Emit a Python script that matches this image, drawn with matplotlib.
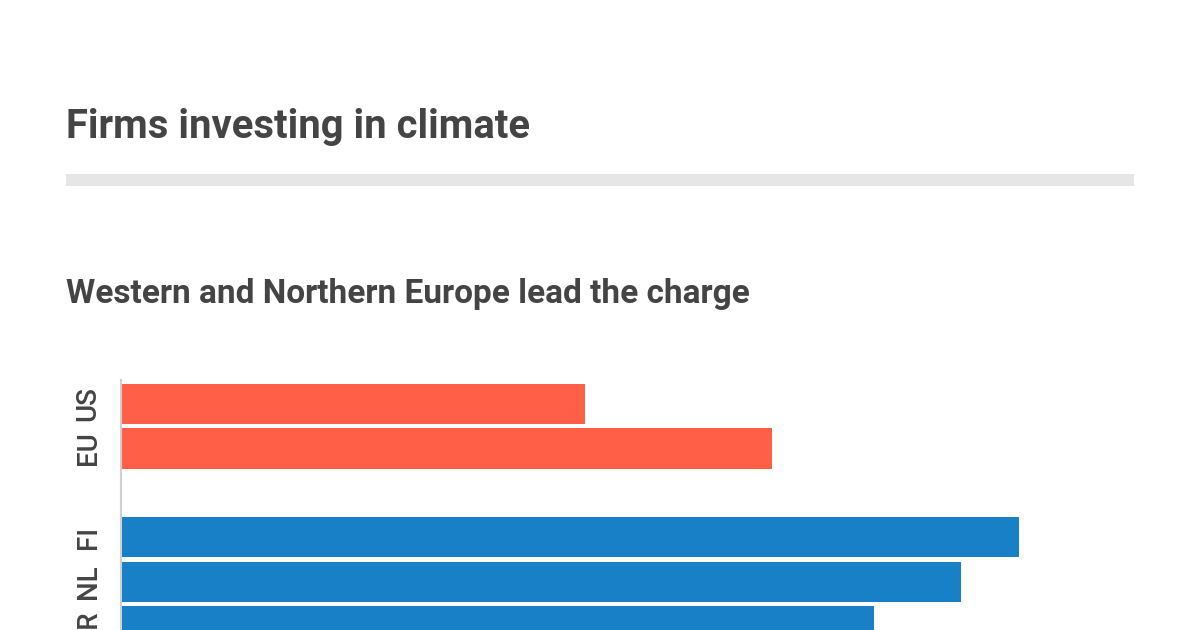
import matplotlib
matplotlib.use("Agg")
import matplotlib.pyplot as plt

# values (share of firms, %)
countries = ["US", "EU", "FI", "NL", "FR"]
positions = [0, 1, 3, 4, 5]
shares = [36.2, 50.8, 70.0, 65.5, 58.7]
groups = ["benchmark", "benchmark", "country", "country", "country"]

COLORS = {"benchmark": "#FF5E47", "country": "#1780C6"}
TEXT = "#444444"

plt.rcParams["font.family"] = ["Roboto", "DejaVu Sans"]

fig = plt.figure(figsize=(12, 6.3), dpi=100)
fig.patch.set_facecolor("white")

W, H = 1200, 630

fig.text(66 / W, 1 - 138 / H, "Firms investing in climate", ha="left", va="baseline",
         fontsize=28.8, fontweight="bold", color=TEXT)
fig.patches.append(plt.Rectangle((66 / W, 1 - 186 / H), (1134 - 66) / W, 12 / H,
                                 transform=fig.transFigure, color="#E6E6E6", lw=0))
fig.text(66 / W, 1 - 303 / H, "Western and Northern Europe lead the charge", ha="left",
         va="baseline", fontsize=24, fontweight="bold", color=TEXT)

ax = fig.add_axes([121 / W, 0, (1134 - 121) / W, (630 - 380) / H])
ax.barh(positions, shares, height=0.9, color=[COLORS[g] for g in groups], zorder=2)

ax.set_xlim(0, 79)
ax.set_ylim(5.08, -0.54)
ax.set_yticks(positions)
ax.set_yticklabels(countries, rotation=90, va="center", fontsize=20, fontweight="medium",
                   color=TEXT)
ax.tick_params(axis="y", length=0, pad=14)
ax.set_xticks([])

for s in ["top", "right", "bottom"]:
    ax.spines[s].set_visible(False)
ax.spines["left"].set_color("#D0D0D0")
ax.spines["left"].set_linewidth(1.5)

fig.savefig("out.png", dpi=100, facecolor="white")
